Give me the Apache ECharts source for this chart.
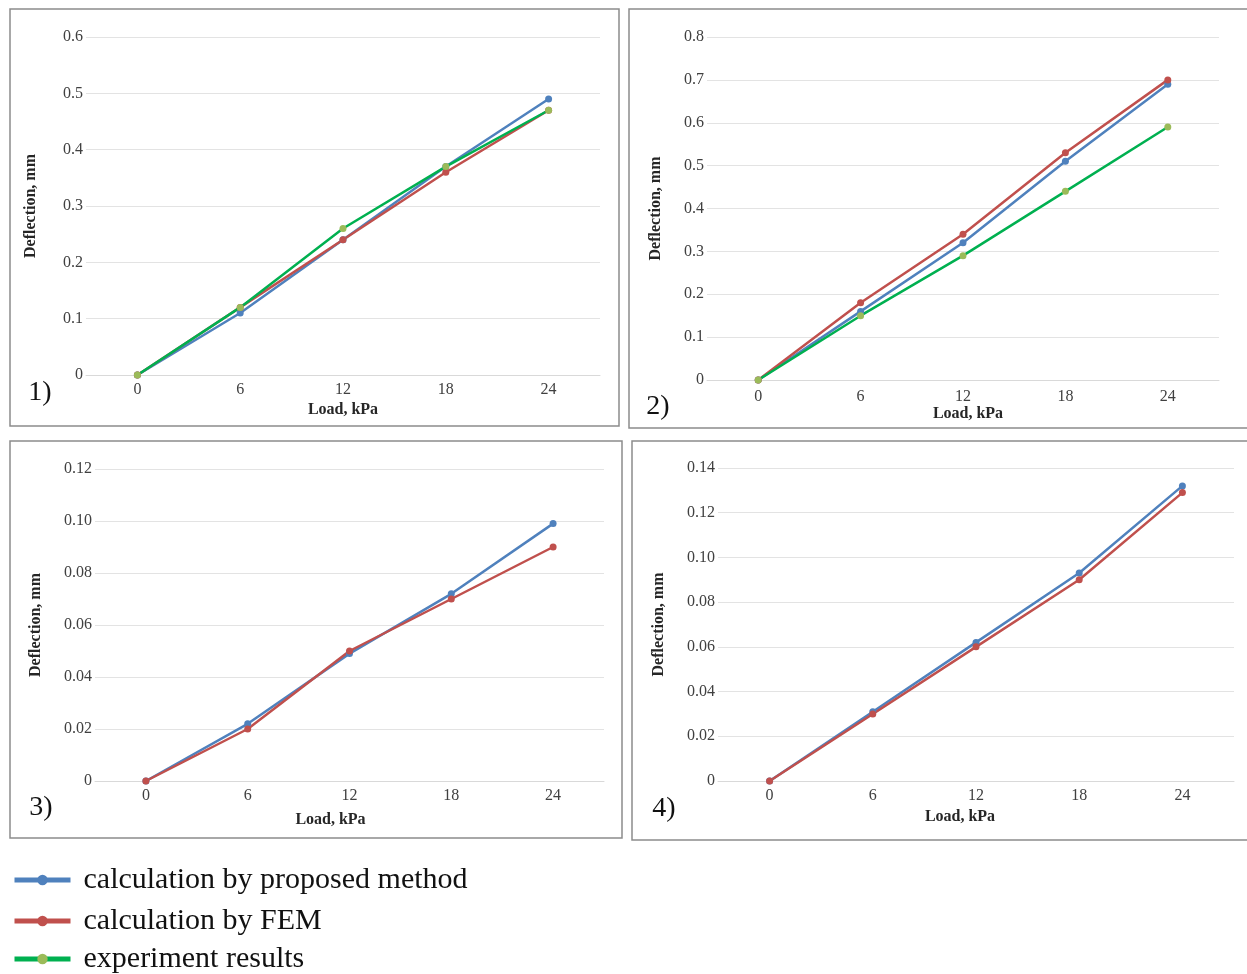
<!DOCTYPE html>
<html>
<head>
<meta charset="utf-8">
<script src="https://cdn.jsdelivr.net/npm/echarts@6/dist/echarts.min.js"></script>
<style>
html,body{margin:0;padding:0;background:#fff;}
#chart{width:1247px;height:974px;}
</style>
</head>
<body>
<div id="chart"></div>
<script>
// ---- data ----
const loads = ['0', '6', '12', '18', '24'];
const seriesNames = ['calculation by proposed method', 'calculation by FEM', 'experiment results'];

const p1Proposed = [0, 0.11, 0.24, 0.37, 0.49];
const p1FEM      = [0, 0.12, 0.24, 0.36, 0.47];
const p1Exp      = [0, 0.12, 0.26, 0.37, 0.47];

const p2Proposed = [0, 0.16, 0.32, 0.51, 0.69];
const p2FEM      = [0, 0.18, 0.34, 0.53, 0.70];
const p2Exp      = [0, 0.15, 0.29, 0.44, 0.59];

const p3Proposed = [0, 0.022, 0.049, 0.072, 0.099];
const p3FEM      = [0, 0.020, 0.050, 0.070, 0.090];

const p4Proposed = [0, 0.031, 0.062, 0.093, 0.132];
const p4FEM      = [0, 0.030, 0.060, 0.090, 0.129];

const yMax = [0.6, 0.8, 0.12, 0.14];
const yStep = [0.1, 0.1, 0.02, 0.02];
const yDecimals = [1, 1, 2, 2];
const panelLabels = ['1)', '2)', '3)', '4)'];

// ---- styling ----
const BLUE = '#4F81BD', RED = '#C0504D', GREEN_LINE = '#00B050', GREEN_MARK = '#9BBB59';
const SERIF = '"Liberation Serif", "Times New Roman", serif';

const grids = [
  {left: 86,  top: 37,  width: 514, height: 338},
  {left: 707, top: 37,  width: 512, height: 343},
  {left: 95,  top: 469, width: 509, height: 312},
  {left: 718, top: 468, width: 516, height: 313}
];
const xLabelMargin = [7, 9, 7, 7];
const xNameGap = [27, 25, 31, 28];
const xNamePad = [[0,0,0,0],[0,0,0,10],[0,38,0,0],[0,32,0,0]];
const yNameGap = [47, 43, 51, 51];
const boxes = [
  {x: 10,  y: 9,   width: 609, height: 417},
  {x: 629, y: 9,   width: 625, height: 419},
  {x: 10,  y: 441, width: 612, height: 397},
  {x: 632, y: 441, width: 620, height: 399}
];
const labelPos = [[40, 393], [658, 407], [41, 808], [664, 809]];
const legendTops = [865, 906, 944];

const xAxes = grids.map((g, i) => ({
  type: 'category', gridIndex: i, data: loads, boundaryGap: true,
  axisLine: {show: true, lineStyle: {color: '#d9d9d9', width: 1}},
  axisTick: {show: false},
  axisLabel: {margin: xLabelMargin[i], fontFamily: SERIF, fontSize: 16, color: '#404040'},
  name: 'Load, kPa', nameLocation: 'middle', nameGap: xNameGap[i],
  nameTextStyle: {fontFamily: SERIF, fontSize: 16, fontWeight: 'bold', color: '#262626', padding: xNamePad[i]}
}));

const yAxes = grids.map((g, i) => ({
  type: 'value', gridIndex: i, min: 0, max: yMax[i], interval: yStep[i],
  axisLine: {show: false}, axisTick: {show: false},
  splitLine: {show: true, lineStyle: {color: '#e3e3e3', width: 1}},
  axisLabel: {
    margin: 3, fontFamily: SERIF, fontSize: 16, color: '#404040',
    formatter: v => (Math.abs(v) < 1e-9 ? '0' : v.toFixed(yDecimals[i]))
  },
  name: 'Deflection, mm', nameLocation: 'middle', nameGap: yNameGap[i], nameRotate: 90,
  nameTextStyle: {fontFamily: SERIF, fontSize: 16, fontWeight: 'bold', color: '#262626'}
}));

function mk(name, data, gi, lineColor, markColor) {
  return {
    name: name, type: 'line', xAxisIndex: gi, yAxisIndex: gi, data: data,
    symbol: 'circle', symbolSize: 7, showSymbol: true,
    lineStyle: {color: lineColor, width: 2.5},
    itemStyle: {color: markColor},
    emphasis: {disabled: true}, animation: false
  };
}

const series = [
  mk(seriesNames[0], p1Proposed, 0, BLUE, BLUE),
  mk(seriesNames[1], p1FEM, 0, RED, RED),
  mk(seriesNames[2], p1Exp, 0, GREEN_LINE, GREEN_MARK),
  mk(seriesNames[0], p2Proposed, 1, BLUE, BLUE),
  mk(seriesNames[1], p2FEM, 1, RED, RED),
  mk(seriesNames[2], p2Exp, 1, GREEN_LINE, GREEN_MARK),
  mk(seriesNames[0], p3Proposed, 2, BLUE, BLUE),
  mk(seriesNames[1], p3FEM, 2, RED, RED),
  mk(seriesNames[0], p4Proposed, 3, BLUE, BLUE),
  mk(seriesNames[1], p4FEM, 3, RED, RED)
];

const graphics = [];
boxes.forEach(b => graphics.push({
  type: 'rect', shape: b, silent: true, z: -10,
  style: {fill: 'none', stroke: '#8c8c8c', lineWidth: 1.5}
}));
panelLabels.forEach((t, i) => graphics.push({
  type: 'text', x: labelPos[i][0], y: labelPos[i][1], silent: true,
  style: {text: t, fontFamily: SERIF, fontSize: 28, fill: '#111', align: 'center', verticalAlign: 'middle'}
}));

const legends = seriesNames.map((n, i) => ({
  data: [n], orient: 'vertical', left: 12, top: legendTops[i], padding: 0,
  itemWidth: 56, itemHeight: 13,
  lineStyle: {width: 5},
  textStyle: {fontFamily: SERIF, fontSize: 30, lineHeight: 30, color: '#111', padding: [0, 0, 0, 8]},
  selectedMode: false
}));

const chart = echarts.init(document.getElementById('chart'), null, {renderer: 'canvas'});
chart.setOption({
  backgroundColor: '#fff',
  animation: false,
  grid: grids.map(g => Object.assign({containLabel: false}, g)),
  xAxis: xAxes,
  yAxis: yAxes,
  series: series,
  legend: legends,
  graphic: graphics
});
</script>
</body>
</html>
